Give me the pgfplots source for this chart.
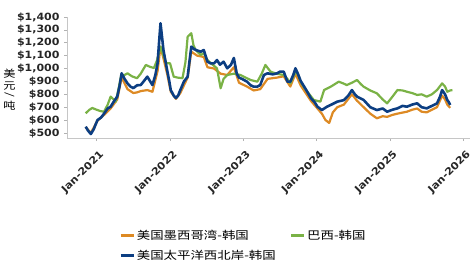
\documentclass[border=0pt]{standalone}
\usepackage{pgfplots}
\pgfplotsset{compat=1.18}
\usepackage{fontspec}
\setmainfont{DejaVu Sans}[FakeStretch=1.1]
\newfontfamily\cjk{Noto Sans CJK SC}[FakeStretch=1.22]
\definecolor{cOr}{RGB}{221,138,36}
\definecolor{cGr}{RGB}{122,178,70}
\definecolor{cBl}{RGB}{12,62,130}
\begin{document}
\begin{tikzpicture}
\begin{axis}[
  scale only axis, width=403pt, height=121pt,
  xmin=2020.595, xmax=2026.09, ymin=461, ymax=1400,
  axis x line*=bottom, axis y line*=left,
  axis line style={draw=gray!45, line width=0.8pt, -},
  tick align=outside, major tick length=3pt,
  tick style={draw=gray!60, line width=0.6pt},
  xtick={2021,2022,2023,2024,2025,2026},
  xticklabels={Jan-2021,Jan-2022,Jan-2023,Jan-2024,Jan-2025,Jan-2026},
  ytick={500,600,700,800,900,1000,1100,1200,1300,1400},
  yticklabels={\$500,\$600,\$700,\$800,\$900,{\$1,000},{\$1,100},{\$1,200},{\$1,300},{\$1,400}},
  yticklabel style={font=\bfseries\fontsize{10}{12}\selectfont, color=black!85, xshift=-1pt},
  xticklabel style={font=\bfseries\fontsize{10}{12}\selectfont, color=black!85, rotate=45, anchor=north east, yshift=-4pt, xshift=-1pt},
  ylabel={\cjk\fontsize{10}{10}\selectfont\shortstack{美\\元\\\rotatebox{-90}{/}\\吨}},
  ylabel style={rotate=-90, at={(rel axis cs:-0.143,0.40)}, anchor=center},
  legend columns=2,
  legend cell align=left,
  legend style={at={(rel axis cs:0.13,-0.745)}, anchor=north west, draw=none, fill=none,
    inner sep=0pt, outer sep=0pt, row sep=5pt,
    font=\cjk\fontsize{11}{13}\selectfont,
    /tikz/every even column/.append style={column sep=12pt}},
  legend image code/.code={\draw[#1, line width=2.5pt] (0pt,0pt) -- (13pt,0pt);},
  every axis plot/.append style={line join=round},
]
\coordinate (bl) at (rel axis cs:0,0);
\coordinate (tr) at (rel axis cs:1,1);
% 美国墨西哥湾-韩国
\addplot[cOr, line width=2.2pt] coordinates {
(2020.85,545) (2020.92,500) (2021.01,595) (2021.10,640) (2021.19,690) (2021.28,760)
(2021.34,930) (2021.42,840) (2021.50,810) (2021.55,815) (2021.60,825) (2021.69,833)
(2021.76,820) (2021.83,980) (2021.87,1170) (2021.91,1080) (2021.96,960) (2022.01,820)
(2022.08,765) (2022.14,810) (2022.19,870) (2022.24,930) (2022.29,1131) (2022.37,1100)
(2022.46,1090) (2022.51,1010) (2022.60,1000) (2022.69,960) (2022.78,950) (2022.87,1010)
(2022.94,890) (2023.05,860) (2023.14,830) (2023.23,840) (2023.33,920) (2023.46,930)
(2023.55,940) (2023.64,860) (2023.71,960) (2023.78,870) (2023.92,750) (2024.01,690)
(2024.07,650) (2024.12,600) (2024.17,578) (2024.22,660) (2024.28,700) (2024.37,720)
(2024.48,800) (2024.55,750) (2024.64,700) (2024.73,650) (2024.82,614) (2024.90,630)
(2024.96,625) (2025.03,640) (2025.10,650) (2025.23,665) (2025.30,680) (2025.37,690)
(2025.43,665) (2025.50,660) (2025.57,680) (2025.64,700) (2025.71,790) (2025.75,760)
(2025.78,720) (2025.82,695)
};
\addlegendentry{美国墨西哥湾-韩国}
% 巴西-韩国
\addplot[cGr, line width=2.2pt] coordinates {
(2020.85,653) (2020.90,680) (2020.94,694) (2021.00,680) (2021.05,670) (2021.10,665)
(2021.15,720) (2021.19,782) (2021.23,760) (2021.26,743) (2021.30,850) (2021.33,937)
(2021.38,950) (2021.42,963) (2021.48,940) (2021.55,925) (2021.60,960) (2021.67,1028)
(2021.72,1015) (2021.78,1004) (2021.82,1060) (2021.87,1170) (2021.91,1100) (2021.95,1041)
(2022.00,1041) (2022.05,937) (2022.10,930) (2022.17,925) (2022.21,1050) (2022.24,1247)
(2022.29,1274) (2022.32,1180) (2022.35,1144) (2022.42,1105) (2022.46,1120) (2022.51,1066)
(2022.58,1030) (2022.64,1002) (2022.69,847) (2022.73,920) (2022.78,950) (2022.87,960)
(2022.96,950) (2023.03,930) (2023.10,911) (2023.19,898) (2023.25,960) (2023.30,1028)
(2023.37,976) (2023.45,960) (2023.55,950) (2023.60,920) (2023.64,885) (2023.69,950)
(2023.73,976) (2023.78,900) (2023.82,859) (2023.90,800) (2023.96,756) (2024.05,743)
(2024.10,833) (2024.19,859) (2024.25,880) (2024.30,898) (2024.36,885) (2024.41,872)
(2024.48,890) (2024.55,911) (2024.60,880) (2024.64,859) (2024.73,830) (2024.82,808)
(2024.90,760) (2024.96,730) (2025.03,780) (2025.10,833) (2025.17,830) (2025.23,820)
(2025.30,810) (2025.37,795) (2025.43,800) (2025.50,782) (2025.57,800) (2025.64,833)
(2025.71,885) (2025.75,860) (2025.78,820) (2025.82,830) (2025.85,833)
};
\addlegendentry{巴西-韩国}
% 美国太平洋西北岸-韩国
\addplot[cBl, line width=2.6pt] coordinates {
(2020.85,549) (2020.88,520) (2020.92,492) (2020.96,530) (2021.01,600) (2021.06,620)
(2021.10,650) (2021.15,690) (2021.19,704) (2021.24,750) (2021.28,782) (2021.31,860)
(2021.34,963) (2021.38,920) (2021.42,885) (2021.46,860) (2021.50,848) (2021.55,870)
(2021.60,872) (2021.64,900) (2021.69,937) (2021.73,900) (2021.76,872) (2021.80,950)
(2021.83,1041) (2021.85,1200) (2021.87,1351) (2021.89,1250) (2021.91,1144) (2021.94,1050)
(2021.96,989) (2021.99,900) (2022.01,833) (2022.05,790) (2022.08,771) (2022.11,790)
(2022.14,833) (2022.19,900) (2022.24,937) (2022.27,1080) (2022.29,1170) (2022.33,1150)
(2022.37,1140) (2022.42,1131) (2022.46,1144) (2022.51,1053) (2022.55,1041) (2022.60,1040)
(2022.64,1066) (2022.68,1030) (2022.73,1053) (2022.78,1002) (2022.83,1028) (2022.87,1082)
(2022.91,960) (2022.94,930) (2022.98,920) (2023.05,898) (2023.10,870) (2023.14,859)
(2023.19,860) (2023.23,872) (2023.28,950) (2023.33,963) (2023.40,955) (2023.46,963)
(2023.50,976) (2023.55,976) (2023.60,898) (2023.64,898) (2023.68,950) (2023.71,1002)
(2023.75,950) (2023.78,905) (2023.85,840) (2023.92,770) (2023.97,740) (2024.01,704)
(2024.07,678) (2024.14,704) (2024.20,720) (2024.28,743) (2024.37,755) (2024.43,790)
(2024.48,833) (2024.52,800) (2024.55,782) (2024.64,756) (2024.73,700) (2024.82,678)
(2024.90,690) (2024.96,665) (2025.03,680) (2025.10,691) (2025.17,710) (2025.23,704)
(2025.30,720) (2025.37,730) (2025.43,700) (2025.50,691) (2025.57,710) (2025.64,730)
(2025.68,780) (2025.71,833) (2025.75,800) (2025.78,756) (2025.80,740) (2025.82,717)
};
\addlegendentry{美国太平洋西北岸-韩国}
\end{axis}
\pgfresetboundingbox
\path ([xshift=-67pt,yshift=-141pt]bl) rectangle ([xshift=1pt,yshift=17pt]tr);
\end{tikzpicture}
\end{document}
